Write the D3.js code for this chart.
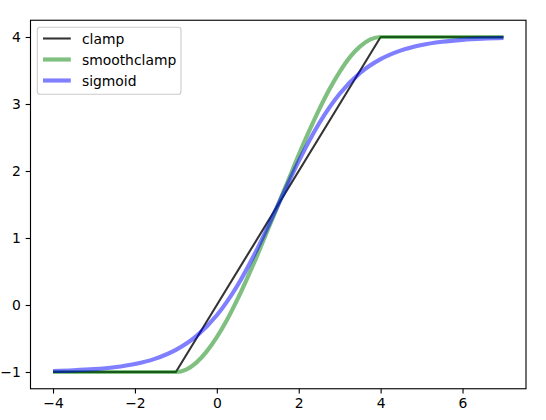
<!DOCTYPE html>
<html><head><meta charset="utf-8">
<script src="https://cdn.jsdelivr.net/npm/d3@7"></script>
<style>
html,body{margin:0;padding:0;background:#fff;}
svg{display:block;font-family:"DejaVu Sans",sans-serif;}
</style></head>
<body>
<svg id="chart" width="546" height="420"></svg>
<script>
// Data
const seriesNames = ["clamp", "smoothclamp", "sigmoid"];
const clampX = [-4, -1, 4, 7];
const clampY = [-1, -1, 4, 4];
const smoothX = [-4, -1, -0.75, -0.5, -0.25, 0, 0.25, 0.5, 0.75, 1, 1.25, 1.5, 1.75, 2, 2.25, 2.5, 2.75, 3, 3.25, 3.5, 3.75, 4, 7];
const smoothY = [-1, -1, -0.964, -0.86, -0.696, -0.48, -0.22, 0.08, 0.41, 0.76, 1.13, 1.5, 1.87, 2.24, 2.59, 2.92, 3.22, 3.48, 3.70, 3.86, 3.964, 4, 4];
const sigmoidX = [-4, -3.5, -3, -2.5, -2, -1.5, -1, -0.5, 0, 0.5, 1, 1.5, 2, 2.5, 3, 3.5, 4, 4.5, 5, 5.5, 6, 6.5, 7];
const sigmoidY = [-0.985, -0.975, -0.958, -0.929, -0.881, -0.80, -0.669, -0.464, -0.153, 0.287, 0.853, 1.5, 2.147, 2.713, 3.153, 3.464, 3.669, 3.80, 3.881, 3.929, 3.958, 3.975, 3.985];
const xTicks = [-4, -2, 0, 2, 4, 6];
const yTicks = [-1, 0, 1, 2, 3, 4];

const svg = d3.select("#chart");
const L = 30.5, R = 526, T = 20.25, B = 388.75;
const x = d3.scaleLinear().domain([-4.55, 7.55]).range([L, R]);
const y = d3.scaleLinear().domain([-1.25, 4.25]).range([B, T]);
const fs = 13.9;
const tickLen = 4.86;

const styles = [
  {stroke: "#000000", opacity: 0.8, width: 2.08},
  {stroke: "#008000", opacity: 0.5, width: 4.17},
  {stroke: "#0000ff", opacity: 0.5, width: 4.17}
];
const data = [
  clampX.map((v, i) => [v, clampY[i]]),
  smoothX.map((v, i) => [v, smoothY[i]]),
  sigmoidX.map((v, i) => [v, sigmoidY[i]])
];
const curves = [d3.curveLinear, d3.curveMonotoneX, d3.curveMonotoneX];

data.forEach((d, i) => {
  const line = d3.line().x(p => x(p[0])).y(p => y(p[1])).curve(curves[i]);
  svg.append("path").attr("d", line(d))
    .attr("fill", "none")
    .attr("stroke", styles[i].stroke)
    .attr("stroke-opacity", styles[i].opacity)
    .attr("stroke-width", styles[i].width)
    .attr("stroke-linecap", "butt")
    .attr("stroke-linejoin", "round");
});

// Frame
svg.append("rect").attr("x", L).attr("y", T).attr("width", R - L).attr("height", B - T)
  .attr("fill", "none").attr("stroke", "#000").attr("stroke-width", 1.11);

const fmt = d => d < 0 ? "\u2212" + Math.abs(d) : String(d);

const xAxis = d3.axisBottom(x).tickValues(xTicks).tickFormat(fmt).tickSize(tickLen).tickPadding(4.86);
const gx = svg.append("g").attr("transform", `translate(0,${B})`).call(xAxis);
const yAxis = d3.axisLeft(y).tickValues(yTicks).tickFormat(fmt).tickSize(tickLen).tickPadding(4.86);
const gy = svg.append("g").attr("transform", `translate(${L},0)`).call(yAxis);
[gx, gy].forEach(g => {
  g.select(".domain").remove();
  g.selectAll(".tick line").attr("stroke", "#000").attr("stroke-width", 1.11);
  g.selectAll(".tick text").attr("fill", "#000").attr("font-size", fs).attr("font-family", "DejaVu Sans");
});

// Legend
const lg = svg.append("g");
lg.append("rect").attr("x", 37.3).attr("y", 27.3).attr("width", 143.7).attr("height", 67)
  .attr("rx", 2.8).attr("fill", "#fff").attr("fill-opacity", 0.8)
  .attr("stroke", "#cccccc").attr("stroke-width", 1.11);
const rowY = [38.5, 59.5, 80.5];
seriesNames.forEach((n, i) => {
  lg.append("line").attr("x1", 43).attr("x2", 70.8).attr("y1", rowY[i]).attr("y2", rowY[i])
    .attr("stroke", styles[i].stroke).attr("stroke-opacity", styles[i].opacity)
    .attr("stroke-width", styles[i].width);
  lg.append("text").attr("x", 81.9).attr("y", rowY[i]).attr("dy", "0.36em")
    .attr("font-size", fs).attr("fill", "#000").text(n);
});
</script>
</body></html>
